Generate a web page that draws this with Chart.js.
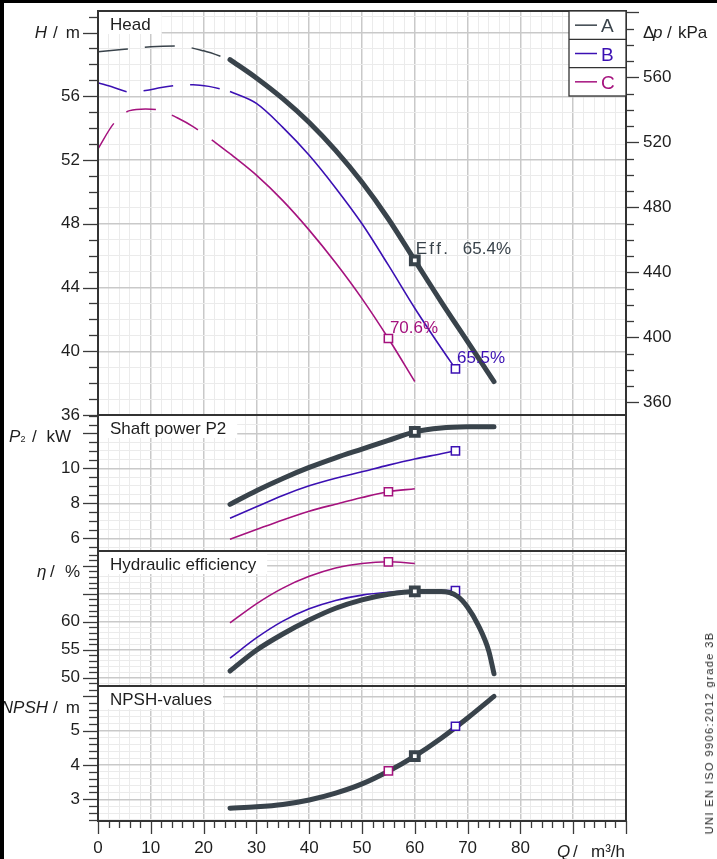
<!DOCTYPE html>
<html>
<head>
<meta charset="utf-8">
<script src="https://cdn.jsdelivr.net/npm/chart.js@4.4.0/dist/chart.umd.min.js"></script>
<style>
    body { margin: 0; background: #fff; }
    #page { position: relative; width: 717px; height: 859px; overflow: hidden; background: #fff; }
    canvas { position: absolute; left: 0; }
    .frame { position: absolute; background: #000; z-index: 5; }
    #norm {
        position: absolute; left: 709px; top: 733px; z-index: 4;
        transform: translate(-50%, -50%) rotate(-90deg);
        font: 11px 'Liberation Sans', Arial, sans-serif; letter-spacing: 1.4px;
        white-space: nowrap; color: #222;
    }
</style>
</head>
<body>
<div id="page">
    <canvas id="cHead" width="717" height="423" style="top:0px"></canvas>
    <canvas id="cPower" width="717" height="152" style="top:407px"></canvas>
    <canvas id="cEff" width="717" height="151" style="top:543px"></canvas>
    <canvas id="cNpsh" width="717" height="181" style="top:678px"></canvas>
    <div id="norm">UNI EN ISO 9906:2012 grade 3B</div>
    <div class="frame" style="left:0;top:0;width:4px;height:859px"></div>
    <div class="frame" style="left:0;top:0;width:717px;height:3px"></div>
</div>
<script>
// values, Q in m³/h
const seriesNames = ['A', 'B', 'C']
const effLabels = ['65.4%', '65.5%', '70.6%']
const dutyQ = [60, 67.7, 55]

const qA = [25, 30, 35, 40, 45, 50, 55, 60, 65, 70, 75]
const headA = [58.3, 57.15, 55.85, 54.35, 52.6, 50.6, 48.3, 45.7, 43.1, 40.6, 38.1]
const powerA = [7.94, 8.72, 9.42, 10.05, 10.6, 11.1, 11.6, 12.08, 12.3, 12.37, 12.38]
const npshA = [2.74, 2.78, 2.85, 2.98, 3.18, 3.45, 3.82, 4.26, 4.78, 5.37, 6.0]
const qEffA = [25, 30, 35, 40, 45, 50, 55, 60, 65, 68, 70, 72, 74, 75]
const effA = [51.2, 54.9, 57.8, 60.3, 62.4, 63.9, 64.9, 65.4, 65.4, 64.6, 62.6, 59.4, 54.8, 50.7]

const qB = [25, 30, 35, 40, 45, 50, 55, 60, 65, 67.7]
const headB = [56.3, 55.55, 54.05, 52.3, 50.25, 48.0, 45.4, 42.7, 40.2, 38.9]
const powerB = [7.15, 7.8, 8.45, 9.0, 9.43, 9.8, 10.18, 10.53, 10.83, 11.0]
const effB = [53.5, 57.1, 60.1, 62.3, 63.8, 64.75, 65.25, 65.5, 65.55, 65.55]

const qC = [25, 30, 35, 40, 45, 50, 55, 60]
const headC = [52.4, 51.05, 49.45, 47.6, 45.55, 43.3, 40.8, 38.1]
const powerC = [5.94, 6.5, 7.05, 7.55, 7.95, 8.33, 8.66, 8.83]
const effC = [59.8, 63.2, 66.0, 68.1, 69.6, 70.4, 70.7, 70.4]

// dashed (outside the allowed range) part of the head curves
const qDashA = [0, 5, 10, 15, 20, 25]
const headDashA = [58.8, 58.95, 59.1, 59.15, 58.85, 58.3]
const qDashBC = [0, 3, 6, 9, 12, 15, 18, 21, 25]
const headDashB = [56.85, 56.55, 56.27, 56.36, 56.55, 56.68, 56.73, 56.62, 56.3]
const headDashC = [52.7, 54.3, 55.1, 55.2, 55.1, 54.65, 54.1, 53.4, 52.4]

// duty points of B and C sitting on the NPSH curve
const npshMarkQ = [67.7, 55]
const npshMarkVal = [5.13, 3.83]

const colors = ['#39434b', '#3b10b3', '#a5127e']
const family = "'Liberation Sans', Arial, sans-serif"
const tickFont = { family: family, size: 17 }
const textColor = '#1e1e1e'
const gridMajor = '#c9c9c9'
const gridMinor = '#ebebeb'

Chart.defaults.font.family = family

function mult(v, m) {
    return Math.abs(v / m - Math.round(v / m)) < 1e-6
}

function pts(qs, vs) {
    return qs.map((q, i) => ({ x: q, y: vs[i] }))
}

// no extra room for overflowing tick labels, the panels sit edge to edge
function noPad(s) {
    s.paddingTop = 0
    s.paddingBottom = 0
    s.paddingLeft = 0
    s.paddingRight = 0
}

function curve(idx, qs, vs, thick) {
    const mq = dutyQ[idx]
    return {
        label: seriesNames[idx],
        data: pts(qs, vs),
        borderColor: colors[idx],
        borderWidth: thick ? 5 : 1.6,
        borderCapStyle: thick ? 'round' : 'butt',
        cubicInterpolationMode: 'monotone',
        pointStyle: 'rect',
        pointRadius: c => c.raw && Math.abs(c.raw.x - mq) < 1e-9 ? (thick ? 5.5 : 5.8) : 0,
        pointBorderWidth: thick ? 4 : 1.5,
        pointBorderColor: colors[idx],
        pointBackgroundColor: '#fff',
        clip: false
    }
}

function dashed(idx, qs, vs) {
    return {
        label: seriesNames[idx] + ' dashed',
        data: pts(qs, vs),
        borderColor: colors[idx],
        borderWidth: 1.5,
        borderDash: [30, 17],
        cubicInterpolationMode: 'monotone',
        pointRadius: 0
    }
}

function marker(idx, q, v) {
    return {
        label: seriesNames[idx] + ' duty',
        data: [{ x: q, y: v }],
        showLine: false,
        pointStyle: 'rect',
        pointRadius: 5.8,
        pointBorderWidth: 1.5,
        pointBorderColor: colors[idx],
        pointBackgroundColor: '#fff'
    }
}

function gridColor(major) {
    return c => c.tick && mult(c.tick.value, major) ? gridMajor : gridMinor
}

function gridWidth(major) {
    return c => c.tick && mult(c.tick.value, major) ? 1.5 : 1
}

function xScale(showLabels) {
    return {
        type: 'linear', min: 0, max: 100,
        ticks: {
            display: showLabels, stepSize: 2, autoSkip: false, maxRotation: 0, includeBounds: false,
            font: tickFont, color: textColor, padding: 17,
            callback: v => mult(v, 10) && v <= 80 ? String(Math.round(v)) : ''
        },
        grid: { drawTicks: false, color: gridColor(10), lineWidth: gridWidth(10) },
        border: { display: false },
        afterFit: s => { s.height = showLabels ? 38 : 0; noPad(s) }
    }
}

function yScale(min, max, step, major, labelOk) {
    return {
        type: 'linear', position: 'left', min: min, max: max,
        ticks: {
            stepSize: step, autoSkip: false, includeBounds: false,
            font: tickFont, color: textColor, padding: 18,
            callback: v => labelOk(v) ? String(Math.round(v)) : ''
        },
        grid: { drawTicks: false, color: gridColor(major), lineWidth: gridWidth(major) },
        border: { display: false },
        afterFit: s => { s.width = 98; noPad(s) }
    }
}

function drawParts(ctx, parts, bx, by) {
    parts.forEach(p => {
        ctx.font = `${p.italic ? 'italic ' : ''}${p.size || 17}px ${family}`
        ctx.textAlign = p.align || 'left'
        ctx.textBaseline = 'alphabetic'
        ctx.fillStyle = p.color || textColor
        ctx.fillText(p.t, bx + p.x, by + (p.y || 0))
    })
}

function decor(cfg) {
    return {
        id: 'decor',
        beforeDatasetsDraw(chart) {
            const { ctx, chartArea: a } = chart
            ctx.save()
            ctx.font = `17px ${family}`
            const w = ctx.measureText(cfg.title).width
            ctx.fillStyle = '#fff'
            ctx.fillRect(a.left + 1, a.top + 1, w + 22, 22)
            ctx.fillStyle = textColor
            ctx.textBaseline = 'alphabetic'
            ctx.fillText(cfg.title, a.left + 12, a.top + 18.5)
            ctx.restore()
        },
        afterDraw(chart) {
            const { ctx, chartArea: a, scales } = chart
            ctx.save()

            ctx.strokeStyle = '#3a3a3a'
            ctx.lineWidth = 1.3
            cfg.marks.forEach(m => {
                const s = scales[m.axis]
                s.ticks.forEach(t => {
                    const p = Math.round(s.getPixelForValue(t.value)) + 0.5
                    const len = mult(t.value, m.major) ? m.long : m.short
                    ctx.beginPath()
                    if (s.position === 'left') {
                        ctx.moveTo(a.left - len, p); ctx.lineTo(a.left, p)
                    } else if (s.position === 'right') {
                        ctx.moveTo(a.right, p); ctx.lineTo(a.right + len, p)
                    } else {
                        ctx.moveTo(p, a.bottom); ctx.lineTo(p, a.bottom + len)
                    }
                    ctx.stroke()
                })
            })

            ctx.strokeStyle = '#333'
            ctx.lineWidth = 2
            ctx.strokeRect(a.left, a.top, a.right - a.left, a.bottom - a.top)

            cfg.units.forEach(u => {
                const bx = u.side === 'right' ? a.right : a.left
                const by = u.axis ? scales[u.axis].getPixelForValue(u.value) + u.dy : a.bottom + u.dy
                drawParts(ctx, u.parts, bx, by)
            })

            ;(cfg.notes || []).forEach(n => {
                const mx = scales.x.getPixelForValue(n.q)
                const my = scales.y.getPixelForValue(n.v)
                ctx.font = `17px ${family}`
                ctx.fillStyle = n.color
                ctx.textAlign = 'left'
                let x = mx + n.dx
                if (n.prefix) {
                    for (const ch of n.prefix) {
                        ctx.fillText(ch, x, my + n.dy)
                        x += ctx.measureText(ch).width + 2.2
                    }
                    x = mx + n.dx + 47
                }
                ctx.fillText(n.text, x, my + n.dy)
            })

            if (cfg.legend) {
                const lx = a.right - 57
                const rowH = 85 / seriesNames.length
                ctx.fillStyle = '#fff'
                ctx.fillRect(lx, a.top, 57, 85)
                ctx.strokeStyle = '#333'
                ctx.lineWidth = 1.3
                ctx.strokeRect(lx, a.top, 57, 85)
                seriesNames.forEach((name, i) => {
                    const cy = a.top + rowH * i + rowH / 2
                    if (i > 0) {
                        ctx.strokeStyle = '#333'
                        ctx.beginPath()
                        ctx.moveTo(lx, a.top + rowH * i); ctx.lineTo(a.right, a.top + rowH * i)
                        ctx.stroke()
                    }
                    ctx.strokeStyle = colors[i]
                    ctx.lineWidth = 1.5
                    ctx.beginPath()
                    ctx.moveTo(lx + 6, cy); ctx.lineTo(lx + 28, cy)
                    ctx.stroke()
                    ctx.lineWidth = 1.3
                    ctx.font = `19px ${family}`
                    ctx.fillStyle = colors[i]
                    ctx.textAlign = 'left'
                    ctx.fillText(name, lx + 32, cy + 7)
                })
            }
            ctx.restore()
        }
    }
}

function makeChart(id, datasets, scales, padding, cfg) {
    return new Chart(document.getElementById(id), {
        type: 'line',
        data: { datasets: datasets },
        options: {
            responsive: false,
            animation: false,
            events: [],
            layout: { padding: padding },
            plugins: { legend: { display: false }, tooltip: { enabled: false } },
            scales: scales
        },
        plugins: [decor(cfg)]
    })
}

const idx60 = qA.indexOf(dutyQ[0])
const idxB = qB.indexOf(dutyQ[1])
const idxC = qC.indexOf(dutyQ[2])

// Head
makeChart('cHead',
    [curve(0, qA, headA, true), curve(1, qB, headB), curve(2, qC, headC),
     dashed(0, qDashA, headDashA), dashed(1, qDashBC, headDashB), dashed(2, qDashBC, headDashC)],
    {
        x: xScale(false),
        y: yScale(36, 61.35, 1, 4, v => mult(v, 4) && v <= 56),
        y2: {
            type: 'linear', position: 'right', min: 352.2, max: 600.8,
            ticks: {
                stepSize: 10, autoSkip: false, includeBounds: false,
                font: tickFont, color: textColor, padding: 17,
                callback: v => mult(v, 40) && v < 600 ? String(Math.round(v)) : ''
            },
            grid: { display: false, drawTicks: false },
            border: { display: false },
            afterFit: s => { s.width = 91; noPad(s) }
        }
    },
    { top: 11, bottom: 8, left: 0, right: 0 },
    {
        title: 'Head',
        legend: true,
        marks: [
            { axis: 'y', major: 4, long: 15, short: 9 },
            { axis: 'y2', major: 40, long: 13, short: 8 }
        ],
        units: [
            { side: 'left', axis: 'y', value: 60, dy: 5.5, parts: [
                { t: 'H', x: -51, align: 'right', italic: true },
                { t: '/', x: -45 },
                { t: 'm', x: -18, align: 'right' }] },
            { side: 'right', axis: 'y', value: 60, dy: 5.5, parts: [
                { t: 'Δ', x: 17 },
                { t: 'p', x: 27, italic: true },
                { t: '/', x: 41 },
                { t: 'kPa', x: 52 }] }
        ],
        notes: [
            { q: dutyQ[0], v: headA[idx60], prefix: 'Eff.', text: effLabels[0], color: colors[0], dx: 1, dy: -6 },
            { q: dutyQ[1], v: headB[idxB], text: effLabels[1], color: colors[1], dx: 1.5, dy: -5.5 },
            { q: dutyQ[2], v: headC[idxC], text: effLabels[2], color: colors[2], dx: 1.5, dy: -5.5 }
        ]
    })

// Shaft power P2
makeChart('cPower',
    [curve(0, qA, powerA, true), curve(1, qB, powerB), curve(2, qC, powerC)],
    { x: xScale(false), y: yScale(5.274, 13.046, 0.5, 2, v => mult(v, 2) && v >= 6 && v <= 10) },
    { top: 8, bottom: 8, left: 0, right: 91 },
    {
        title: 'Shaft power P2',
        marks: [{ axis: 'y', major: 2, long: 15, short: 9 }],
        units: [
            { side: 'left', axis: 'y', value: 12, dy: 8.4, parts: [
                { t: 'P', x: -89, italic: true },
                { t: '2', x: -77.5, size: 9 },
                { t: '/', x: -66 },
                { t: 'kW', x: -27, align: 'right' }] }
        ]
    })

// Hydraulic efficiency
makeChart('cEff',
    [curve(0, qEffA, effA, true), curve(1, qB, effB), curve(2, qC, effC)],
    { x: xScale(false), y: yScale(48.52, 72.63, 1, 5, v => mult(v, 5) && v >= 50 && v <= 60) },
    { top: 8, bottom: 8, left: 0, right: 91 },
    {
        title: 'Hydraulic efficiency',
        marks: [{ axis: 'y', major: 5, long: 15, short: 9 }],
        units: [
            { side: 'left', axis: 'y', value: 70, dy: 11, parts: [
                { t: 'η', x: -61, italic: true },
                { t: '/', x: -48 },
                { t: '%', x: -18, align: 'right' }] }
        ]
    })

// NPSH
makeChart('cNpsh',
    [marker(1, npshMarkQ[0], npshMarkVal[0]), marker(2, npshMarkQ[1], npshMarkVal[1]), curve(0, qA, npshA, true)],
    { x: xScale(true), y: yScale(2.367, 6.303, 0.2, 1, v => mult(v, 1) && v >= 3 && v <= 5) },
    { top: 8, bottom: 0, left: 0, right: 91 },
    {
        title: 'NPSH-values',
        marks: [
            { axis: 'y', major: 1, long: 15, short: 9 },
            { axis: 'x', major: 10, long: 13, short: 7 }
        ],
        units: [
            { side: 'left', axis: 'y', value: 6, dy: 16.6, parts: [
                { t: 'NPSH', x: -50, align: 'right', italic: true },
                { t: '/', x: -45 },
                { t: 'm', x: -18, align: 'right' }] },
            { side: 'right', dy: 36, parts: [
                { t: 'Q', x: -69, italic: true },
                { t: '/', x: -53 },
                { t: 'm³/h', x: -1, align: 'right' }] }
        ]
    })
</script>
</body>
</html>
